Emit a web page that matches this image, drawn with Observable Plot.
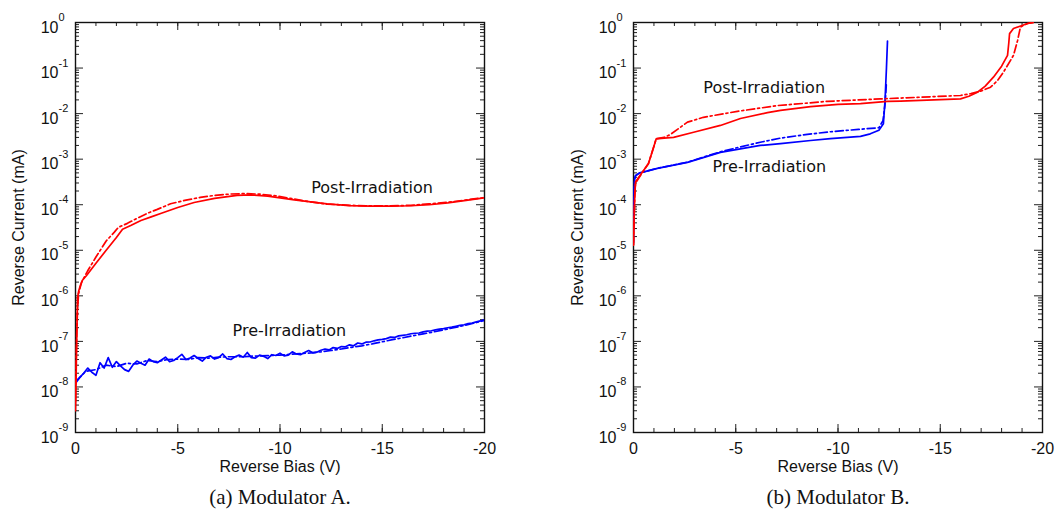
<!DOCTYPE html>
<html><head><meta charset="utf-8">
<script src="https://cdn.jsdelivr.net/npm/d3@7"></script>
<script src="https://cdn.jsdelivr.net/npm/@observablehq/plot@0.6"></script>
<style>
html,body{margin:0;padding:0;background:#fff;}
#wrap{display:flex;width:1055px;height:512px;overflow:hidden;}
</style></head><body><div id="wrap"></div>
<script>
// ---------- tick labels ----------
const xMajor = [0, -5, -10, -15, -20];
const xMinor = [0,-1,-2,-3,-4,-5,-6,-7,-8,-9,-10,-11,-12,-13,-14,-15,-16,-17,-18,-19,-20];
const yMajor = [1e-9, 1e-8, 1e-7, 1e-6, 1e-5, 1e-4, 1e-3, 1e-2, 1e-1, 1];
const yMinorMult = [2, 3, 4, 5, 6, 7, 8, 9];
const yMinor = yMajor.slice(0, -1).flatMap(d => yMinorMult.map(k => k * d));

const xTitle = "Reverse Bias (V)";
const yTitle = "Reverse Current (mA)";
const captions = ["(a) Modulator A.", "(b) Modulator B."];

// ---------- Modulator A ----------
const aPostSolidV = [0,-0.03,-0.05,-0.08,-0.1,-0.16,-0.24,-0.34,-0.54,-1.0,-1.5,-2.0,-2.3,-2.7,-3.2,-3.7,-4.2,-5.0,-5.8,-6.8,-7.9,-8.6,-9.4,-10.7,-12.3,-13.4,-14.4,-15.4,-16.4,-17.3,-18.2,-19.1,-20];
const aPostSolidI = [3.0e-9,1.6e-8,6.3e-8,3.2e-7,9.1e-7,1.3e-6,1.7e-6,2.2e-6,2.8e-6,5.2e-6,1.0e-5,1.9e-5,2.9e-5,3.5e-5,4.5e-5,5.4e-5,6.5e-5,8.7e-5,1.12e-4,1.38e-4,1.6e-4,1.64e-4,1.55e-4,1.28e-4,1.04e-4,9.6e-5,9.3e-5,9.3e-5,9.5e-5,1.0e-4,1.1e-4,1.24e-4,1.42e-4];

const aPostDashV = [0,-0.03,-0.06,-0.1,-0.15,-0.3,-0.59,-1.0,-1.5,-1.9,-2.1,-2.54,-3.0,-3.52,-4.0,-4.65,-5.4,-6.1,-6.8,-7.6,-8.3,-9.05,-9.8,-10.5,-11.4,-12.3,-13.4,-14.4,-15.4,-16.4,-17.3,-18.2,-19.1,-20];
const aPostDashI = [5.0e-9,3.2e-8,1.6e-7,5.0e-7,1.12e-6,2.0e-6,3.5e-6,7.1e-6,1.6e-5,2.5e-5,3.2e-5,3.9e-5,5.0e-5,6.5e-5,7.9e-5,1.05e-4,1.26e-4,1.45e-4,1.6e-4,1.72e-4,1.75e-4,1.7e-4,1.56e-4,1.38e-4,1.17e-4,1.03e-4,9.7e-5,9.4e-5,9.4e-5,9.7e-5,1.04e-4,1.13e-4,1.27e-4,1.44e-4];

const aPreSolidV = [0,-0.2,-0.4,-0.6,-0.8,-1,-1.2,-1.4,-1.6,-1.8,-2,-2.2,-2.4,-2.6,-2.8,-3,-3.2,-3.4,-3.6,-3.8,-4,-4.2,-4.4,-4.6,-4.8,-5,-5.2,-5.4,-5.6,-5.8,-6,-6.2,-6.4,-6.6,-6.8,-7,-7.2,-7.4,-7.6,-7.8,-8,-8.2,-8.4,-8.6,-8.8,-9,-9.2,-9.4,-9.6,-9.8,-10,-10.2,-10.4,-10.6,-10.8,-11,-11.2,-11.4,-11.6,-11.8,-12,-12.2,-12.4,-12.6,-12.8,-13,-13.2,-13.4,-13.6,-13.8,-14,-14.2,-14.4,-14.6,-14.8,-15,-15.2,-15.4,-15.6,-15.8,-16,-16.2,-16.4,-16.6,-16.8,-17,-17.2,-17.4,-17.6,-17.8,-18,-18.2,-18.4,-18.6,-18.8,-19,-19.2,-19.4,-19.6,-19.8,-20];
const aPreSolidI = [
  1.2e-8,1.6e-8,2.0e-8,2.6e-8,2.1e-8,1.8e-8,3.4e-8,2.6e-8,4.4e-8,2.7e-8,
  3.6e-8,2.9e-8,2.4e-8,2.2e-8,3.0e-8,3.7e-8,3.3e-8,3.0e-8,4.1e-8,3.6e-8,
  3.4e-8,3.9e-8,4.5e-8,3.6e-8,3.8e-8,4.4e-8,5.2e-8,4.0e-8,4.3e-8,4.9e-8,
  4.2e-8,3.7e-8,4.5e-8,4.8e-8,4.1e-8,4.4e-8,5.3e-8,4.2e-8,4.0e-8,4.6e-8,
  5.0e-8,4.5e-8,5.7e-8,4.4e-8,4.3e-8,5.0e-8,4.7e-8,4.2e-8,5.1e-8,4.9e-8,
  5.5e-8,4.8e-8,5.0e-8,5.9e-8,5.3e-8,5.1e-8,5.7e-8,6.3e-8,5.6e-8,5.8e-8,
  6.4e-8,
  6.8e-8,6.5e-8,7.3e-8,7.0e-8,7.7e-8,7.6e-8,8.4e-8,8.0e-8,9.2e-8,8.8e-8,
  9.6e-8,9.7e-8,1.03e-7,1.08e-7,1.11e-7,1.15e-7,1.24e-7,1.22e-7,1.32e-7,1.36e-7,
  1.40e-7,1.47e-7,1.51e-7,1.53e-7,1.62e-7,1.68e-7,1.71e-7,1.79e-7,1.86e-7,1.90e-7,
  1.99e-7,2.06e-7,2.15e-7,2.24e-7,2.32e-7,2.45e-7,2.53e-7,2.69e-7,2.81e-7,3.0e-7];

const aPreDashV = [0,-0.5,-1,-1.5,-2,-2.5,-3,-3.5,-4,-4.5,-5,-5.5,-6,-6.5,-7,-7.5,-8,-8.5,-9,-9.5,-10,-10.5,-11,-11.5,-12,-12.5,-13,-13.5,-14,-14.5,-15,-15.5,-16,-16.5,-17,-17.5,-18,-18.5,-19,-19.5,-20];
const aPreDashI = [1.3e-8,2.2e-8,2.4e-8,3.0e-8,2.8e-8,3.3e-8,3.2e-8,3.8e-8,3.6e-8,4.0e-8,4.1e-8,4.0e-8,4.4e-8,4.3e-8,4.5e-8,4.6e-8,4.6e-8,4.7e-8,4.8e-8,4.9e-8,5.0e-8,5.2e-8,5.4e-8,5.6e-8,5.9e-8,6.3e-8,6.8e-8,7.4e-8,8.0e-8,8.8e-8,9.8e-8,1.09e-7,1.20e-7,1.33e-7,1.46e-7,1.61e-7,1.79e-7,2.0e-7,2.23e-7,2.52e-7,2.88e-7];

const aLabelText = ["Post-Irradiation", "Pre-Irradiation"];
const aLabelV = [-14.5, -10.46];
const aLabelI = [2.4e-4, 1.74e-7];

// ---------- Modulator B ----------
const bPreSolidV = [0,-0.02,-0.04,-0.06,-0.1,-0.3,-0.6,-1.17,-2.64,-4.25,-6.2,-7.19,-8.66,-9.63,-11.1,-11.58,-12.0,-12.22,-12.3,-12.37,-12.42];
const bPreSolidI = [3.0e-5,1.0e-4,2.5e-4,3.8e-4,4.4e-4,5.0e-4,5.4e-4,6.3e-4,8.5e-4,1.41e-3,2.0e-3,2.2e-3,2.57e-3,2.82e-3,3.16e-3,3.6e-3,4.3e-3,6.0e-3,1.95e-2,1.02e-1,3.9e-1];

const bPreDashV = [0,-0.02,-0.04,-0.06,-0.1,-0.3,-0.6,-1.17,-2.64,-4.25,-5.2,-6.2,-7.19,-8.5,-9.63,-11.0,-12.0,-12.2,-12.3,-12.37];
const bPreDashI = [1.5e-5,8.0e-5,2.2e-4,3.6e-4,4.3e-4,5.0e-4,5.4e-4,6.3e-4,8.6e-4,1.45e-3,1.85e-3,2.35e-3,2.9e-3,3.5e-3,4.0e-3,4.5e-3,4.9e-3,7.0e-3,1.6e-2,4.9e-2];

const bPostSolidV = [0,-0.03,-0.06,-0.1,-0.42,-0.73,-0.98,-1.11,-1.5,-1.96,-2.94,-4.25,-5.23,-6.55,-7.19,-8.66,-10.0,-11.1,-12.42,-13.06,-15.99,-16.4,-16.82,-17.2,-17.6,-18.0,-18.29,-18.35,-18.39,-18.58,-19.0,-19.27,-19.5];
const bPostSolidI = [1.3e-5,5.0e-5,1.5e-4,3.2e-4,5.1e-4,7.9e-4,1.8e-3,2.8e-3,2.9e-3,3.0e-3,3.9e-3,5.5e-3,7.8e-3,1.05e-2,1.18e-2,1.42e-2,1.6e-2,1.66e-2,1.86e-2,1.88e-2,2.1e-2,2.4e-2,2.95e-2,4.0e-2,6.3e-2,1.1e-1,1.9e-1,3.5e-1,5.7e-1,7.4e-1,8.6e-1,9.5e-1,1.0];

const bPostDashV = [0,-0.03,-0.06,-0.1,-0.42,-0.73,-0.98,-1.11,-1.5,-1.81,-2.64,-3.42,-5.08,-7.04,-9.5,-12.08,-15.99,-16.5,-16.97,-17.46,-17.8,-18.09,-18.58,-18.78,-18.92,-19.1,-19.27,-19.56];
const bPostDashI = [1.3e-5,5.0e-5,1.5e-4,3.0e-4,5.0e-4,8.0e-4,1.8e-3,2.8e-3,3.0e-3,3.5e-3,6.5e-3,8.3e-3,1.12e-2,1.5e-2,1.86e-2,2.1e-2,2.5e-2,2.75e-2,3.1e-2,3.8e-2,5.3e-2,8.1e-2,1.9e-1,4.0e-1,7.9e-1,8.8e-1,9.5e-1,1.0];

const bLabelText = ["Post-Irradiation", "Pre-Irradiation"];
const bLabelV = [-6.39, -6.64];
const bLabelI = [3.7e-2, 6.9e-4];

const RED = "#ff0000", BLUE = "#0000ff";
const DASHDOT = "8,3,2,3";

const sans = "'Liberation Sans', Arial, Helvetica, sans-serif";
const serif = "'Liberation Serif', 'Times New Roman', serif";
const labelFont = "'DejaVu Sans', Verdana, sans-serif";

function panel({width, marginLeft, marginRight, yTitleDx, series, labelText, labelV, labelI, caption}) {
  const height = 512, marginTop = 22, marginBottom = 80;
  const W = width - marginLeft - marginRight;
  const H = height - marginTop - marginBottom;
  const tickColor = "#222";
  const marks = [
    // inward ticks on all four sides
    Plot.tickY(yMinor, {y: d => d, insetRight: W - 4, stroke: tickColor}),
    Plot.tickY(yMinor, {y: d => d, insetLeft: W - 4, stroke: tickColor}),
    Plot.tickY(yMajor, {y: d => d, insetRight: W - 8, stroke: tickColor}),
    Plot.tickY(yMajor, {y: d => d, insetLeft: W - 8, stroke: tickColor}),
    Plot.tickX(xMinor, {x: d => d, insetTop: H - 4, stroke: tickColor}),
    Plot.tickX(xMinor, {x: d => d, insetBottom: H - 4, stroke: tickColor}),
    Plot.tickX(xMajor, {x: d => d, insetTop: H - 8, stroke: tickColor}),
    Plot.tickX(xMajor, {x: d => d, insetBottom: H - 8, stroke: tickColor}),
    Plot.frame({stroke: "#111", strokeWidth: 1.4}),
    // x tick labels
    Plot.axisX({ticks: xMajor, tickSize: 0, tickPadding: 10, tickFormat: d => String(d), fontSize: 16, fontFamily: sans, fill: "#111"}),
    // y tick labels: 10 with raised exponent
    Plot.text(yMajor, {y: d => d, text: () => "10", frameAnchor: "left", textAnchor: "end", lineAnchor: "middle", dx: -17, dy: 5, fontSize: 16, fontFamily: sans, fill: "#111"}),
    Plot.text(yMajor, {y: d => d, text: d => String(Math.round(Math.log10(d))), frameAnchor: "left", textAnchor: "start", lineAnchor: "middle", dx: -17, dy: -5, fontSize: 11, fontFamily: sans, fill: "#111"}),
    // axis titles
    Plot.text([xTitle], {frameAnchor: "bottom", lineAnchor: "middle", textAnchor: "middle", dy: 34, fontSize: 16, fontFamily: sans, fill: "#111"}),
    Plot.text([yTitle], {frameAnchor: "left", lineAnchor: "middle", textAnchor: "middle", dx: yTitleDx, rotate: -90, fontSize: 16, fontFamily: sans, fill: "#111"}),
    // caption
    Plot.text([caption], {frameAnchor: "bottom", lineAnchor: "middle", textAnchor: "middle", dy: 65, fontSize: 21, fontFamily: serif, fill: "#111"})
  ];
  for (const s of series) {
    marks.push(Plot.line(s.I, {x: s.V, y: d => d, stroke: s.color, strokeWidth: 1.7,
      strokeDasharray: s.dash ? DASHDOT : undefined, clip: true}));
  }
  marks.push(Plot.text(labelText, {x: labelV, y: labelI, text: d => d, fontSize: 16, fontFamily: labelFont, fill: "#111"}));
  return Plot.plot({
    width, height, marginLeft, marginRight, marginTop, marginBottom,
    x: {domain: [0, -20], axis: null},
    y: {type: "log", domain: [1e-9, 1], axis: null},
    style: {fontFamily: sans, fontSize: "16px", background: "#fff", overflow: "visible"},
    marks
  });
}

const wrap = document.getElementById("wrap");
wrap.appendChild(panel({
  width: 527, marginLeft: 75, marginRight: 43, yTitleDx: -57,
  series: [
    {V: aPreDashV, I: aPreDashI, color: BLUE, dash: true},
    {V: aPreSolidV, I: aPreSolidI, color: BLUE, dash: false},
    {V: aPostDashV, I: aPostDashI, color: RED, dash: true},
    {V: aPostSolidV, I: aPostSolidI, color: RED, dash: false}
  ],
  labelText: aLabelText, labelV: aLabelV, labelI: aLabelI, caption: captions[0]
}));
wrap.appendChild(panel({
  width: 528, marginLeft: 106, marginRight: 13, yTitleDx: -56,
  series: [
    {V: bPreDashV, I: bPreDashI, color: BLUE, dash: true},
    {V: bPreSolidV, I: bPreSolidI, color: BLUE, dash: false},
    {V: bPostDashV, I: bPostDashI, color: RED, dash: true},
    {V: bPostSolidV, I: bPostSolidI, color: RED, dash: false}
  ],
  labelText: bLabelText, labelV: bLabelV, labelI: bLabelI, caption: captions[1]
}));
</script></body></html>
